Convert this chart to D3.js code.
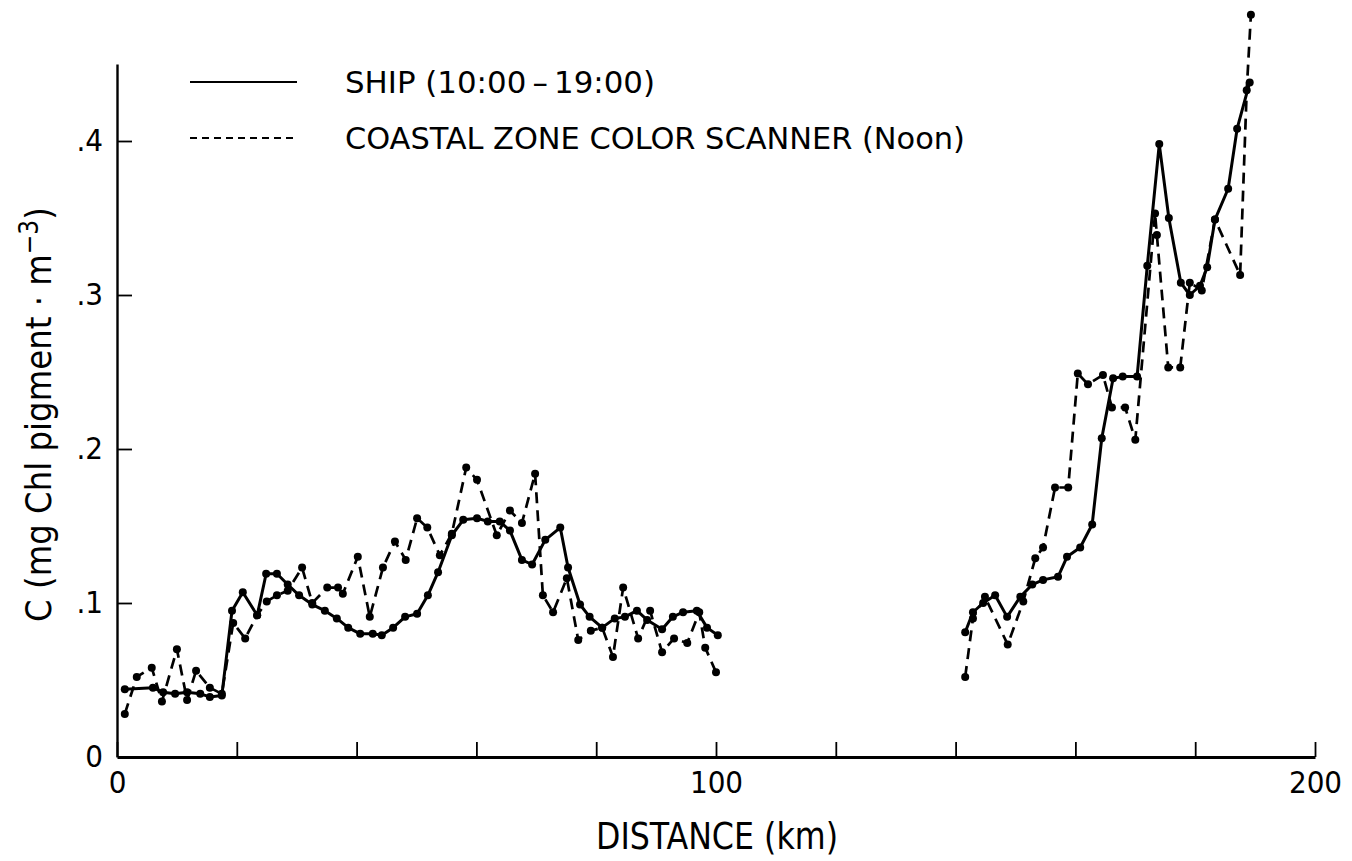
<!DOCTYPE html>
<html>
<head>
<meta charset="utf-8">
<script src="https://cdn.jsdelivr.net/npm/d3@7"></script>
<style>
  body { margin: 0; background: #fff; }
  text { font-family: 'Liberation Sans Narrow', 'DejaVu Sans Condensed', sans-serif; fill: #000; }
</style>
</head>
<body>
<div class="vis-container"></div>
<script>
// Ship profile, km along track and chlorophyll pigment (mg m^-3)
const shipKm = [1.3, 6.0, 7.7, 9.7, 11.7, 13.9, 15.5, 17.5, 19.2, 21.0, 23.4, 24.9, 26.7, 28.5, 30.4, 32.6, 34.7,
  36.7, 38.6, 40.6, 42.7, 44.2, 46.1, 48.1, 50.1, 51.9, 53.6, 55.9, 57.8, 60.1, 61.9, 63.9, 65.6, 67.6, 69.3,
  71.5, 74.0, 75.3, 77.3, 78.9, 81.0, 83.1, 84.8, 86.8, 88.5, 91.0, 92.8, 94.5, 96.8, 98.5, 100.3];
const shipC = [0.044, 0.045, 0.042, 0.041, 0.042, 0.041, 0.039, 0.040, 0.095, 0.107, 0.092, 0.119, 0.119, 0.112,
  0.105, 0.099, 0.095, 0.090, 0.084, 0.080, 0.080, 0.079, 0.084, 0.091, 0.093, 0.105, 0.120, 0.144, 0.154, 0.155,
  0.153, 0.153, 0.147, 0.128, 0.125, 0.141, 0.149, 0.123, 0.099, 0.091, 0.084, 0.090, 0.091, 0.095, 0.089, 0.083,
  0.091, 0.094, 0.095, 0.084, 0.079];
const shipKm2 = [141.6, 142.9, 144.6, 146.6, 148.6, 150.8, 152.8, 154.6, 157.1, 158.6, 160.8, 162.8, 164.4, 166.3,
  167.9, 170.3, 172.0, 174.0, 175.6, 177.6, 179.1, 180.8, 182.0, 183.3, 185.5, 187.0, 189.1];
const shipC2 = [0.081, 0.094, 0.100, 0.105, 0.091, 0.104, 0.112, 0.115, 0.117, 0.130, 0.136, 0.151, 0.207, 0.246,
  0.247, 0.247, 0.319, 0.398, 0.350, 0.308, 0.300, 0.306, 0.318, 0.349, 0.369, 0.408, 0.438];

// Coastal Zone Color Scanner profile
const czcsKm = [1.3, 3.3, 5.8, 7.5, 10.0, 11.7, 13.2, 15.5, 17.5, 19.4, 21.4, 23.4, 25.0, 26.7, 28.5, 30.9, 32.6,
  35.1, 36.9, 37.7, 40.2, 42.2, 44.4, 46.4, 48.2, 50.1, 51.8, 53.9, 55.9, 58.3, 60.1, 63.4, 65.6, 67.6, 69.8,
  71.1, 72.8, 75.1, 77.0, 79.1, 81.0, 82.8, 84.5, 87.0, 89.0, 91.0, 93.0, 95.2, 97.2, 98.2, 100.0];
const czcsC = [0.028, 0.052, 0.058, 0.036, 0.070, 0.037, 0.056, 0.045, 0.041, 0.087, 0.077, 0.092, 0.101, 0.105,
  0.108, 0.123, 0.100, 0.110, 0.110, 0.106, 0.130, 0.091, 0.123, 0.140, 0.128, 0.155, 0.149, 0.131, 0.145, 0.188,
  0.180, 0.144, 0.160, 0.152, 0.184, 0.105, 0.094, 0.116, 0.076, 0.082, 0.084, 0.065, 0.110, 0.077, 0.095, 0.068,
  0.077, 0.074, 0.094, 0.071, 0.055];
const czcsKm2 = [141.6, 142.9, 144.9, 148.7, 151.3, 153.3, 154.6, 156.6, 158.8, 160.4, 162.1, 164.6, 166.1, 168.3,
  170.0, 173.3, 173.6, 175.5, 177.5, 179.1, 181.1, 183.3, 187.5, 188.6, 189.3];
const czcsC2 = [0.052, 0.090, 0.104, 0.073, 0.101, 0.129, 0.136, 0.175, 0.175, 0.249, 0.242, 0.248, 0.227, 0.227,
  0.206, 0.353, 0.339, 0.253, 0.253, 0.308, 0.303, 0.349, 0.313, 0.433, 0.482];

const xTicks = [0, 20, 40, 60, 80, 100, 120, 140, 160, 180, 200];
const xTickLabels = ['0', '', '', '', '', '100', '', '', '', '', '200'];
const yTicks = [0, 0.1, 0.2, 0.3, 0.4];
const yTickLabels = ['0', '.1', '.2', '.3', '.4'];
const legendLabels = ['SHIP (10:00\u2009\u2013\u200919:00)', 'COASTAL ZONE COLOR SCANNER (Noon)'];

const margin = { top: 64, right: 37, bottom: 104, left: 117 };
const width = 1352 - margin.left - margin.right;
const height = 861 - margin.top - margin.bottom;

const svg = d3
  .select('.vis-container')
  .append('svg')
  .attr('width', width + margin.left + margin.right)
  .attr('height', height + margin.top + margin.bottom);

const group = svg
  .append('g')
  .attr('transform', 'translate(' + margin.left + ',' + margin.top + ')');

const xScale = d3.scaleLinear().domain([0, 200]).range([0, 1198]);
const yScale = d3.scaleLinear().domain([0, 0.45]).range([height, 0]);

// axes, ticks point inwards
const xAxis = d3
  .axisBottom(xScale)
  .tickValues(xTicks)
  .tickSize(-15)
  .tickSizeOuter(0)
  .tickPadding(14)
  .tickFormat((d, i) => xTickLabels[i]);
group
  .append('g')
  .attr('transform', `translate(0, ${height})`)
  .call(xAxis)
  .call((g) => g.select('.domain').attr('stroke-width', 2.8))
  .call((g) => g.selectAll('.tick line').attr('stroke-width', 1.8))
  .call((g) => g.selectAll('.tick text').attr('font-size', 31).attr('font-family', null));

const yAxis = d3
  .axisLeft(yScale)
  .tickValues(yTicks)
  .tickSize(-15)
  .tickSizeOuter(0)
  .tickPadding(14)
  .tickFormat((d, i) => yTickLabels[i]);
group
  .append('g')
  .call(yAxis)
  .call((g) => g.select('.domain').attr('stroke-width', 2.4))
  .call((g) => g.selectAll('.tick line').attr('stroke-width', 1.8))
  .call((g) => g.selectAll('.tick').filter((d) => d === 0).select('line').remove())
  .call((g) => g.selectAll('.tick text').attr('font-size', 31).attr('font-family', null));

// axis titles
group
  .append('text')
  .attr('x', 600)
  .attr('y', height + 92)
  .attr('text-anchor', 'middle')
  .attr('font-size', 38)
  .attr('textLength', 242)
  .attr('lengthAdjust', 'spacingAndGlyphs')
  .text('DISTANCE (km)');

const yLabel = group
  .append('text')
  .attr('transform', `translate(-66, ${yScale(0.225) + 4}) rotate(-90)`)
  .attr('text-anchor', 'middle')
  .attr('font-size', 36);
yLabel.append('tspan').text('C (mg Chl pigment \u00b7 m');
yLabel.append('tspan').attr('dy', -13).attr('font-size', 26).text('\u22123');
yLabel.append('tspan').attr('dy', 13).text(')');

const line = d3
  .line()
  .x((d) => xScale(d[0]))
  .y((d) => yScale(d[1]));

const series = [
  { data: d3.zip(shipKm, shipC), dash: null, width: 3 },
  { data: d3.zip(shipKm2, shipC2), dash: null, width: 3 },
  { data: d3.zip(czcsKm, czcsC), dash: '11,7', width: 2.7 },
  { data: d3.zip(czcsKm2, czcsC2), dash: '11,7', width: 2.7 }
];

series.forEach((s) => {
  group
    .append('path')
    .datum(s.data)
    .attr('fill', 'none')
    .attr('stroke', 'black')
    .attr('stroke-width', s.width)
    .attr('stroke-dasharray', s.dash)
    .attr('stroke-linejoin', 'round')
    .attr('d', line);

  group
    .append('g')
    .selectAll('circle')
    .data(s.data)
    .join('circle')
    .attr('cx', (d) => xScale(d[0]))
    .attr('cy', (d) => yScale(d[1]))
    .attr('r', 4)
    .attr('fill', 'black');
});

// legend
const legend = svg.append('g');
legendLabels.forEach((label, i) => {
  const y = 82 + i * 56;
  legend
    .append('line')
    .attr('x1', 190)
    .attr('x2', 297)
    .attr('y1', y)
    .attr('y2', y)
    .attr('stroke', 'black')
    .attr('stroke-width', 1.8)
    .attr('stroke-dasharray', i === 0 ? null : '7,5');
  legend
    .append('text')
    .attr('x', 345)
    .attr('y', y + 11)
    .attr('font-size', 31)
    .attr('textLength', i === 0 ? 310 : 620)
    .attr('lengthAdjust', 'spacingAndGlyphs')
    .text(label);
});
</script>
</body>
</html>
